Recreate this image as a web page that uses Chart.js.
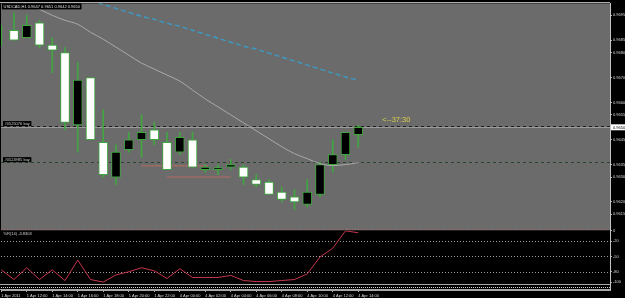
<!DOCTYPE html>
<html><head><meta charset="utf-8">
<script src="https://cdn.jsdelivr.net/npm/chart.js@4.4.1/dist/chart.umd.min.js"></script>
<style>html,body{margin:0;padding:0;background:#000;overflow:hidden}canvas{display:block}</style>
</head><body>
<canvas id="c" width="625" height="298"></canvas>
<script>
// ---- data (USDCAD H1, 1 Apr 2011 10:00 .. 4 Apr 2011 14:00) ----
const symbol = 'USDCAD,H1';
const open  = [null,0.9689,0.9686,0.9692,0.9683,0.9680,0.9651,0.9670,0.9644,0.9630,0.9641,0.9645,0.9649,0.9644,0.9640,0.9645,0.9633,0.9633,0.9634,0.9634,0.9629,0.9628,0.9624,0.9622,0.9619,0.9623,0.9635,0.9639,0.9647];
const high  = [0.9691,0.9696,0.9695,0.9693,0.9686,0.9682,0.9676,0.9670,0.9657,0.9643,0.9648,0.9655,0.9652,0.9648,0.9648,0.9648,0.9635,0.9635,0.9637,0.9635,0.9631,0.9629,0.9626,0.9625,0.9629,0.9636,0.9645,0.9648,0.9651];
const low   = [0.9683,0.9685,0.9686,0.9682,0.9672,0.9649,0.9640,0.9645,0.9630,0.9627,0.9640,0.9638,0.9643,0.9633,0.9639,0.9634,0.9632,0.9631,0.9633,0.9627,0.9626,0.9623,0.9620,0.9617,0.9618,0.9622,0.9632,0.9637,0.9642];
const close = [null,0.9685,0.9691,0.9683,0.9681,0.9652,0.9669,0.9645,0.9631,0.9640,0.9645,0.9648,0.9645,0.9633,0.9646,0.9634,0.9634,0.9633,0.9635,0.9630,0.9627,0.9623,0.9621,0.9620,0.9624,0.9635,0.9639,0.9648,0.9650];
const maFast = [null,0.97018,0.96994,0.96974,0.9695,0.9693,0.96914,0.96882,0.96854,0.96822,0.9679,0.96758,0.96734,0.9671,0.96686,0.9665,0.96614,0.96582,0.9655,0.96518,0.96486,0.96454,0.96422,0.96394,0.96374,0.96354,0.96346,0.9635,0.96358];
const maSlow = [null,null,null,null,null,null,null,0.9701,0.96994,0.96978,0.96962,0.96946,0.96934,0.96918,0.96906,0.9689,0.96874,0.96858,0.96842,0.96826,0.96814,0.96798,0.96782,0.96766,0.9675,0.96734,0.96718,0.96702,0.9669];
const williamsR = [-76,-95,-72,-95,-76,-97,-57,-95,-100,-86,-80,-72,-78,-93,-74,-91,-91,-91,-87,-97,-99,-99,-97,-95,-84,-51,-34,0,-3.8303];
const pivotFrom  = [11, 13];
const pivotTo    = [16.2, 18];
const pivotPrice = [0.96345, 0.9630];
const orderPrice = [0.96505, 0.9636];
const orderText  = ['#0525076 buy', '#0524985 buy'];
const priceTicks = [0.9695,0.9685,0.9680,0.9670,0.9660,0.9655,0.9645,0.9635,0.9630,0.9620,0.9615];
const wrTicks  = [0,-20,-50,-80,-100];
const wrLevels = [-20,-50,-80];
const timeTickIdx  = [0,2,4,6,8,10,12,14,16,18,20,22,24,26,28];
const timeTickText = ['1 Apr 2011','1 Apr 12:00','1 Apr 14:00','1 Apr 16:00','1 Apr 18:00','1 Apr 20:00','1 Apr 22:00','4 Apr 00:00','4 Apr 02:00','4 Apr 04:00','4 Apr 06:00','4 Apr 08:00','4 Apr 10:00','4 Apr 12:00','4 Apr 14:00'];
const timerText = '<--37:30';

// ---- derived ----
const last = close.length - 1;
const bid = close[last];
const idx = close.map((_, i) => i);
const bodies = idx.filter(i => open[i] != null).map(i => ({x: i, y: [open[i], close[i]]}));
const wicks = idx.map(i => ({x: i, y: [low[i], high[i]]}));
const fastData = idx.filter(i => maFast[i] != null).map(i => ({x: i, y: maFast[i]}));
const slowData = idx.filter(i => maSlow[i] != null).map(i => ({x: i, y: maSlow[i]}));
const wrData = idx.map(i => ({x: i, y: williamsR[i]}));
const pivotSets = pivotPrice.map((p, k) => ({
  type: 'line', data: [{x: pivotFrom[k], y: p}, {x: pivotTo[k], y: p}],
  xAxisID: 'x', yAxisID: 'y', borderColor: '#b86a60', borderWidth: 1, pointRadius: 0, order: 3
}));
const header = symbol + ' ' + [open[last], high[last], low[last], close[last]].map(v => v.toFixed(4)).join(' ');

const GREEN = '#40a640';
const tinyFont = {family: 'Liberation Sans', size: 4};

function hline(ctx, x1, x2, y, color, dash) {
  ctx.save();
  ctx.strokeStyle = color; ctx.lineWidth = 1; ctx.setLineDash(dash || []);
  const yy = Math.round(y) + 0.5;
  ctx.beginPath(); ctx.moveTo(x1, yy); ctx.lineTo(x2, yy); ctx.stroke();
  ctx.restore();
}
function boxText(ctx, text, x, yTop, h, font, bg, fg) {
  ctx.save();
  ctx.font = font;
  const w = ctx.measureText(text).width;
  ctx.fillStyle = bg; ctx.fillRect(x, yTop, w + 3, h);
  ctx.fillStyle = fg; ctx.textBaseline = 'middle'; ctx.textAlign = 'left';
  ctx.fillText(text, x + 1.5, yTop + h / 2 + 0.3);
  ctx.restore();
}

const mt4 = {
  id: 'mt4',
  beforeDraw(chart) {
    const {ctx, chartArea: ca, scales} = chart;
    const py = scales.y, sy = scales.y3;
    ctx.save();
    ctx.fillStyle = '#000'; ctx.fillRect(0, 0, chart.width, chart.height);
    ctx.fillStyle = '#6b6b6b'; ctx.fillRect(ca.left, py.top, ca.right - ca.left, py.bottom - py.top);
    ctx.restore();
    hline(ctx, 0, ca.right, py.top - 1, '#b0b0b0');
    hline(ctx, ca.left, ca.right, py.bottom - 1, '#b56a6a', [1, 2]);
    hline(ctx, 0, ca.right, sy.top, '#a8a8a8');
    hline(ctx, ca.left, ca.right, (sy.top + sy.bottom) / 2, '#c8c8c8', [1, 1]);
    hline(ctx, 0, ca.right, sy.bottom - 1, '#a8a8a8');
  },
  beforeDatasetsDraw(chart) {
    const {ctx, chartArea: ca, scales} = chart;
    orderPrice.forEach((p, k) => hline(ctx, ca.left, ca.right, scales.y.getPixelForValue(p), k === 0 ? '#1e1e1e' : '#27452a', [3, 3]));
    hline(ctx, ca.left, ca.right, scales.y.getPixelForValue(bid), '#9c9c9c');
    wrLevels.forEach(v => hline(ctx, ca.left, ca.right, scales.y2.getPixelForValue(v), '#a0a0a0', [1, 2]));
  },
  afterDatasetsDraw(chart) {
    const {ctx, chartArea: ca, scales} = chart;
    const py = scales.y;
    boxText(ctx, header, ca.left + 1, py.top, 6, '4px "Liberation Sans"', '#000', '#e0e0e0');
    orderText.forEach((t, k) => {
      const y = py.getPixelForValue(orderPrice[k]);
      boxText(ctx, t, ca.left + 2, y - 5, 5, '4px "Liberation Sans"', '#000', '#d0d0d0');
    });
    boxText(ctx, '%R(14) ' + williamsR[last].toFixed(4), ca.left + 1, scales.y2.top + 1, 5, '4px "Liberation Sans"', '#000', '#d0d0d0');
    // countdown timer
    ctx.save();
    ctx.font = '7.5px "Liberation Sans"';
    ctx.fillStyle = '#d8d04c'; ctx.textBaseline = 'middle'; ctx.textAlign = 'left';
    ctx.fillText(timerText, scales.x.getPixelForValue(last) + 24, py.getPixelForValue(bid) - 7);
    ctx.restore();
    // current price marker on the axis
    const by = py.getPixelForValue(bid);
    ctx.save();
    ctx.fillStyle = '#fff'; ctx.fillRect(py.left + 1, by - 3, py.right - py.left - 1, 6);
    ctx.font = '4px "Liberation Sans"'; ctx.fillStyle = '#000'; ctx.textBaseline = 'middle';
    ctx.fillText(bid.toFixed(4), py.left + 3, by + 0.3);
    ctx.restore();
  }
};

new Chart(document.getElementById('c'), {
  type: 'bar',
  data: {
    datasets: [
      {type: 'line', label: 'MA slow', data: slowData, xAxisID: 'x', yAxisID: 'y', borderColor: '#3c9ac4', borderWidth: 1.4, borderDash: [5, 3], pointRadius: 0, cubicInterpolationMode: 'monotone', order: 0},
      {type: 'line', label: 'MA fast', data: fastData, xAxisID: 'x', yAxisID: 'y', borderColor: '#a9a9a9', borderWidth: 1, pointRadius: 0, cubicInterpolationMode: 'monotone', order: 0},
      {type: 'bar', label: 'body', data: bodies, xAxisID: 'x', yAxisID: 'y', grouped: false, barThickness: 9, minBarLength: 2,
        backgroundColor: c => (c.raw && c.raw.y[1] >= c.raw.y[0]) ? '#000' : '#fff',
        borderColor: GREEN, borderWidth: 1, borderSkipped: false, order: 1},
      {type: 'bar', label: 'wick', data: wicks, xAxisID: 'x', yAxisID: 'y', grouped: false, barThickness: 1, backgroundColor: GREEN, borderWidth: 0, order: 2},
      ...pivotSets,
      {type: 'line', label: '%R(14)', data: wrData, xAxisID: 'x', yAxisID: 'y2', borderColor: '#c6364e', borderWidth: 1, pointRadius: 0, order: 0}
    ]
  },
  options: {
    responsive: false, animation: false, devicePixelRatio: 1, events: [],
    layout: {padding: {left: 1, top: 2, right: 0, bottom: 0}},
    plugins: {legend: {display: false}, tooltip: {enabled: false}},
    scales: {
      y: {
        position: 'right', stack: 'p', stackWeight: 228, min: 0.96086, max: 0.96998, beginAtZero: false,
        afterBuildTicks: s => { s.ticks = priceTicks.map(v => ({value: v})); },
        afterFit: s => { s.width = 15; },
        ticks: {font: tinyFont, color: '#d8d8d8', padding: 1, autoSkip: false, callback: v => Number(v).toFixed(4)},
        grid: {drawOnChartArea: false, drawTicks: true, tickLength: 2, tickColor: '#b0b0b0'},
        border: {display: true, color: '#c4c4c4'}
      },
      y2: {
        position: 'right', stack: 'p', stackWeight: 54, min: -103.8, max: 1, beginAtZero: false,
        afterBuildTicks: s => { s.ticks = wrTicks.map(v => ({value: v})); },
        afterFit: s => { s.width = 15; },
        ticks: {font: tinyFont, color: '#d8d8d8', padding: 1, autoSkip: false, callback: v => String(v)},
        grid: {drawOnChartArea: false, drawTicks: true, tickLength: 2, tickColor: '#b0b0b0'},
        border: {display: true, color: '#c4c4c4'}
      },
      y3: {
        position: 'right', stack: 'p', stackWeight: 6, min: 0, max: 1,
        afterFit: s => { s.width = 15; },
        ticks: {display: false},
        grid: {display: false},
        border: {display: true, color: '#c4c4c4'}
      },
      x: {
        type: 'linear', position: 'bottom', min: -0.0196, max: 47.745, offset: false,
        afterBuildTicks: s => { s.ticks = timeTickIdx.map(v => ({value: v})); },
        afterFit: s => { s.height = 8; },
        ticks: {font: tinyFont, color: '#d8d8d8', padding: 1, autoSkip: false, maxRotation: 0, align: 'start',
          callback: v => { const k = timeTickIdx.indexOf(v); return k >= 0 ? timeTickText[k] : ''; }},
        grid: {offset: false, drawOnChartArea: false, drawTicks: true, tickLength: 2, tickColor: '#b0b0b0'},
        border: {display: true, color: '#a8a8a8'}
      }
    }
  },
  plugins: [mt4]
});
</script>
</body></html>
